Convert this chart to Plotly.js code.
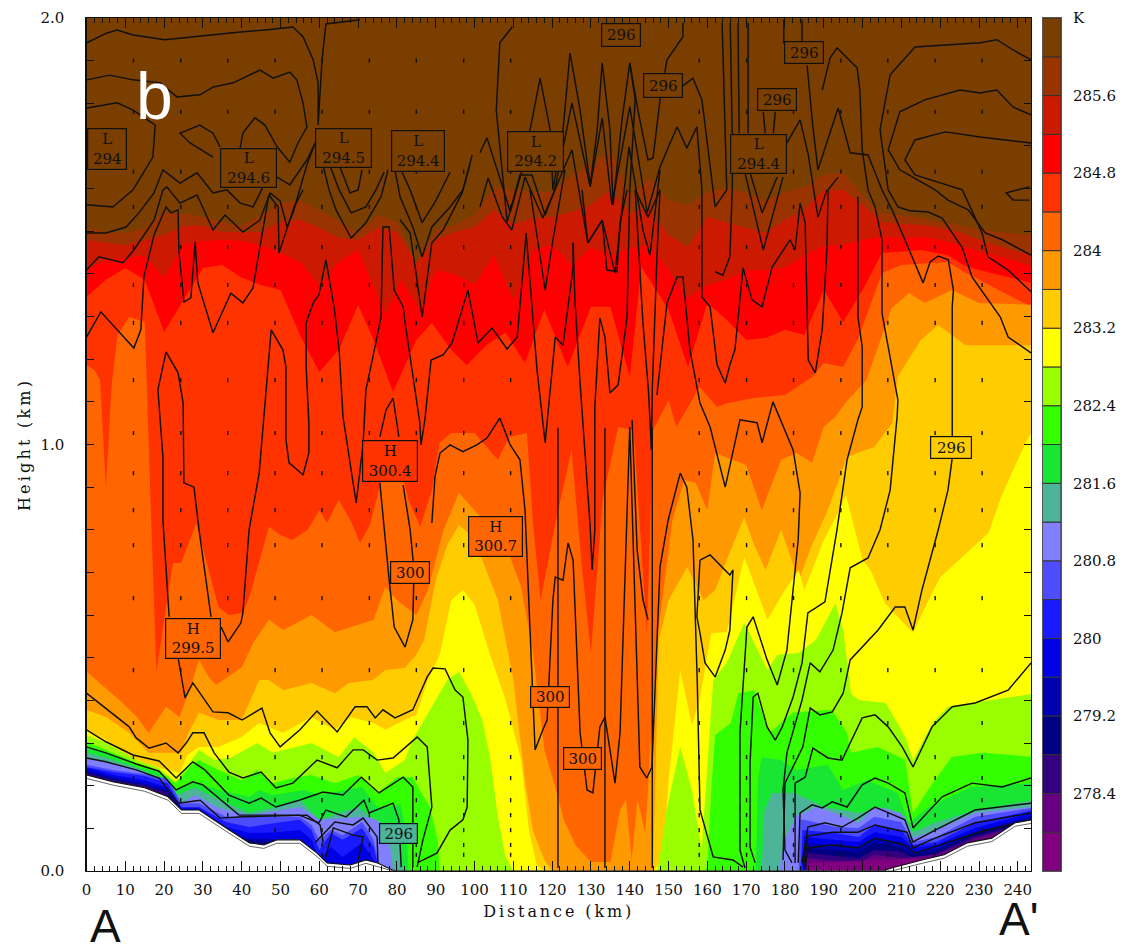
<!DOCTYPE html>
<html><head><meta charset="utf-8">
<script src="https://cdn.plot.ly/plotly-3.0.1.min.js"></script>
<style>html,body{margin:0;padding:0;background:#fff}#plot{width:1123px;height:947px}
.xtitle{letter-spacing:2.9px}.ytitle{letter-spacing:3.2px}</style>
</head><body><div id="plot"></div>
<script>
// Temperature isotherm heights (km), warmest first
const x5=[0,5,10,15,20,25,30,35,40,45,50,55,60,65,70,75,80,85,90,95,100,105,110,115,120,125,130,135,140,145,150,155,160,165,170,175,180,185,190,195,200,205,210,215,220,225,230,235,240,245];
const t286_h=[1.508,1.498,1.496,1.508,1.545,1.541,1.534,1.522,1.513,1.538,1.566,1.573,1.55,1.522,1.496,1.538,1.522,1.428,1.503,1.515,1.538,1.602,1.597,1.592,1.592,1.632,1.656,1.691,1.585,1.625,1.573,1.562,1.592,1.602,1.59,1.573,1.592,1.604,1.632,1.639,1.585,1.543,1.538,1.531,1.522,1.513,1.505,1.498,1.494,1.491];
const t2856_h=[1.48,1.473,1.468,1.48,1.491,1.513,1.513,1.498,1.498,1.498,1.522,1.527,1.508,1.484,1.48,1.508,1.498,1.426,1.48,1.498,1.51,1.55,1.515,1.531,1.534,1.545,1.562,1.597,1.543,1.557,1.491,1.463,1.534,1.52,1.508,1.496,1.527,1.55,1.597,1.597,1.562,1.522,1.517,1.515,1.508,1.498,1.48,1.466,1.452,1.442];
const t2852_x=[0,5,10,15,20,25,30,35,40,45,50,55,60,65,70,77,81,86,90,95,100,105,110,115,120,125,130,135,140,145,150,155,160,165,170,175,180,185,190,195,200,205,210,215,220,225,230,235,240,245];
const t2852_h=[1.409,1.433,1.437,1.444,1.391,1.468,1.477,1.48,1.477,1.468,1.449,1.428,1.374,1.428,1.456,1.304,1.386,1.316,1.409,1.398,1.374,1.444,1.339,1.456,1.468,1.421,1.461,1.444,1.461,1.468,1.409,1.344,1.374,1.386,1.409,1.409,1.414,1.444,1.466,1.468,1.48,1.487,1.484,1.487,1.48,1.468,1.452,1.442,1.428,1.414];
const t2848_x=[0,5,10,15,20,25,30,35,40,45,50,55,60,65,70,74,79,85,89,94,98,103,108,113,118,124,130,135,140,143,150,155,160,165,170,175,180,185,190,195,200,205,210,215,222,226,230,235,240,245];
const t2848_h=[1.346,1.386,1.414,1.386,1.264,1.339,1.414,1.421,1.391,1.374,1.362,1.257,1.17,1.222,1.327,1.245,1.123,1.245,1.285,1.222,1.186,1.233,1.262,1.191,1.316,1.182,1.323,1.323,1.158,1.416,1.316,1.182,1.332,1.292,1.245,1.25,1.269,1.257,1.362,1.287,1.362,1.449,1.452,1.456,1.444,1.421,1.409,1.398,1.386,1.376];
const t2844_x=[0,2,3.5,5,6.5,8,11,15,16.5,18,20,22.3,24.4,28.3,34,36.7,40.3,42,47,50,53,57,60,62,65,68,70.5,73,76,78,81,83,86,89,91,94,100,106,109,113.5,115,117,121,125,127.5,130,133,137,141,142.5,144.4,146,150,152,158,162.5,165,172,180,187,190,195,199,205,210,222,226,230,235,240,245];
const t2844_h=[1.186,1.175,1.151,.9,1.14,1.257,1.299,1.287,.87,.467,.589,.722,.722,.816,.619,.6,.605,.643,.807,.788,.776,.8,.846,.816,.87,.823,.769,.811,.917,.987,.94,.87,.807,.893,1.004,1.027,1.027,.964,1.018,1.027,.823,.635,.823,.987,.729,.511,.87,1.041,1.034,.823,.558,1.034,1.104,1.041,1.135,1.088,1.097,1.109,1.116,1.158,1.191,1.182,1.252,1.402,1.421,1.428,1.405,1.386,1.362,1.339,1.316];
const t284_x=[0,8.5,13,16,20.5,24,26.5,29,31.5,33.4,40,43,47,50.7,58,64,74,77,80,85,88,92,96,103,108,112,115,118,121,123,126,130,135,137.5,139,140.5,142,144,147,149,151,154,157,160,162,170,174,179,183,187,190,193,195.5,201,205,207.5,212,216,223,230,245];
const t284_h=[.467,.401,.361,.324,.385,.361,.424,.495,.455,.436,.478,.535,.589,.565,.6,.56,.589,.666,.635,.6,.659,.8,.886,.816,.765,.666,.518,.284,.19,.12,.061,.021,.021,.143,.167,.026,.167,.089,.542,.682,.823,.917,.91,.846,.98,.952,.846,.964,.98,.957,1.041,1.065,1.097,1.151,1.252,1.32,1.355,1.332,1.362,1.332,1.327];
const t2836_x=[0,5,11,16,21.5,24.4,26,29,34,40,44.5,47,50.7,58,64,67.6,73.8,77,82,85,87,90,93,96,99,102,106,110,113,115,118,120,146,147.5,150,154.8,159,162,165,169.5,172,175,179,183.5,187,191,196,203,207.7,209,215,219.5,226.5,245];
const t2836_h=[.378,.361,.324,.277,.277,.277,.319,.371,.354,.354,.448,.448,.424,.441,.417,.441,.448,.471,.476,.507,.542,.682,.765,.811,.788,.729,.635,.448,.213,.096,.026,0,0,.542,.635,.713,.635,.659,.729,.83,.765,.706,.8,.682,.765,.846,.971,.994,1.051,1.158,1.245,1.28,1.233,1.233];
const t2832_x=[0,5,11,18,24,26,29,34,40,44.5,50.7,58,64,68,74,77,82,85,88,91,94,97,100,104,108,112,114,116,118,146,148.5,150,153,156,158,161,165,169.5,175.5,180,183.5,185,187,190,194,195.7,198,200,202,205.8,213,216.6,220,232.5,235.7,242,245];
const t2832_h=[.331,.307,.267,.244,.23,.272,.291,.291,.314,.347,.324,.361,.331,.361,.347,.331,.354,.366,.448,.507,.635,.659,.624,.507,.401,.26,.096,.014,0,0,.026,.213,.471,.342,.401,.558,.56,.736,.589,.659,.706,.659,.706,.776,.846,.882,.8,.729,.706,.628,.558,.628,.689,.793,.877,1.004,1.051];
const t2828_x=[0,5,13,18.5,23,27,29,33,37,44,48,58,65,69,74,77,82,84,88.5,93,96,99,102,104,106,108,110,147,147.5,149.5,153,156,158.5,160,161.5,165,169.5,175.5,178,183.5,188,193,195,197,199,206,211,213,218,222,230,245];
const t2828_h=[.319,.3,.26,.242,.209,.26,.284,.26,.265,.3,.277,.3,.267,.314,.277,.23,.26,.307,.378,.448,.467,.417,.354,.267,.127,.033,0,0,.019,.143,.291,.19,.049,.237,.448,.488,.582,.471,.507,.511,.542,.628,.565,.417,.401,.394,.314,.26,.347,.385,.396,.417];
const t2824_x=[0,5,13,18.5,23,27,29,34,40,44,48,54,58,64,70,75,80,84,88.5,90.5,91,159.5,160,161,162,166,168,172,176,182,192,196,197,204,211,213,218,223,231,245];
const t2824_h=[.303,.284,.253,.237,.206,.249,.26,.237,.213,.237,.206,.22,.225,.206,.225,.183,.22,.22,.15,.073,0,0,.014,.19,.319,.347,.417,.424,.324,.371,.378,.324,.277,.291,.26,.136,.206,.267,.277,.267];
const t282_x=[0,5,13,18.5,23,28,34,42,44.5,48,56,60,71,75,81,82.6,83,172.5,173,174,179,183,191,195,201,209,212,217,228,245];
const t282_h=[.291,.277,.244,.232,.19,.209,.19,.174,.19,.178,.19,.178,.197,.15,.155,.073,0,0,.213,.267,.26,.237,.249,.19,.213,.183,.113,.15,.197,.206];
const t2816_x=[0,5,13,18.5,22,28,34,42,49,55,60,70,75,79,81,81.5,174,174.7,176.7,182.6,190,199,206,211,213,218.7,229,245];
const t2816_h=[.277,.265,.242,.22,.174,.195,.167,.136,.15,.167,.12,.15,.113,.096,.073,0,0,.141,.183,.183,.15,.136,.15,.127,.091,.113,.143,.167];
const t2812_x=[0,5,13,18.5,23,28,34,42,55,60,71,75,78,79,178.5,180,183,185,188,193,199,203,210,213,219,229,243,245];
const t2812_h=[.265,.256,.237,.218,.15,.178,.148,.131,.15,.12,.127,.12,.073,0,0,.073,.131,.136,.15,.136,.113,.15,.136,.078,.096,.136,.15,.152];
const t2808_x=[0,7,15,21,24.5,29,36,42,49,55,58,60,63,66,71,74,75.7,183.5,184,185,193,199,203,210,213,219,229,243,245];
const t2808_h=[.249,.237,.227,.216,.159,.159,.127,.127,.127,.127,.108,.073,.096,.084,.115,.073,0,0,.12,.12,.103,.101,.127,.115,.068,.08,.127,.148,.15];
const t2804_x=[0,7,15,21,24.5,29,36,42,49,55,58,60,63,66,71,74,75.5,184,184.5,193,199,203,210,213,219,229,243,245];
const t2804_h=[.244,.232,.223,.206,.15,.15,.115,.103,.113,.12,.096,.049,.089,.073,.101,.056,0,0,.096,.089,.08,.108,.096,.061,.068,.113,.141,.145];
const t280_x=[0,7,15,21,24.5,29,36,42,49,55,58,60,63,66,71,74,75,184.5,185,193,199,203,210,213,219,229,243,245];
const t280_h=[.242,.225,.213,.195,.148,.148,.103,.089,.091,.096,.073,.026,.056,.033,.066,.026,0,0,.08,.073,.068,.091,.08,.054,.061,.101,.136,.14];
const t2796_x=[0,7,15,21,24.5,29,36,42,46,49,50,184.8,185,199,203,210,213,219,229,243,245];
const t2796_h=[.237,.22,.206,.19,.145,.145,.091,.077,.077,.073,0,0,.066,.056,.077,.068,.045,.054,.091,.129,.132];
const t2792_x=[0,7,15,21,24.5,29,36,42,46,49,50,185,185.3,199,203,210,213,219,229,243,245];
const t2792_h=[.232,.216,.202,.185,.143,.143,.084,.073,.07,.068,0,0,.054,.045,.066,.056,.038,.049,.089,.12,.123];
const t2788_x=[0,7,15,21,22,185.3,185.5,199,203,210,213,219,229,243,245];
const t2788_h=[.23,.213,.2,.183,0,0,.042,.03,.049,.045,.03,.042,.082,.115,.118];
const t2784_x=[0,185.5,185.7,199,203,210,219,229,243,245];
const t2784_h=[0,0,.03,.019,.038,.03,.038,.077,.113,.116];
const t278_x=[0,186,186.2,203,219,229,243,245];
const t278_h=[0,0,.019,.026,.03,.068,.108,.11];
const terrain_x=[0,7,15,21,24.5,29,36,42,45.7,49,55,59.4,62,68,72,75,79,80,205,207.5,215.3,221,227,233.3,239.3,243.4,245];
const terrain_h=[.225,.209,.195,.174,.143,.143,.101,.066,.061,.073,.073,.042,.019,.014,.026,.019,.002,0,0,.007,.026,.038,.066,.077,.113,.12,.122];
const terrainEdge_h=[.217,.201,.187,.166,.135,.135,.093,.058,.053,.065,.065,.034,.011,.006,.018,.011,0,0,0,0,.018,.03,.058,.069,.105,.112,.114];

// Colour key
const bandColors=['#800080','#660080','#330080','#000080','#0000b3','#0000e6','#1a1aff','#4d4dff','#8080ff','#4db399','#19e633','#33ff00','#99ff00','#ffff00','#ffcc00','#ff9900','#ff6600','#ff3300','#ff0000','#cc1a00','#993300','#7a3e00'];
const bandBase=[277.6,278,278.4,278.8,279.2,279.6,280,280.4,280.8,281.2,281.6,282,282.4,282.8,283.2,283.6,284,284.4,284.8,285.2,285.6,286];
const bandStep=[.4,.4,.4,.4,.4,.4,.4,.4,.4,.4,.4,.4,.4,.4,.4,.4,.4,.4,.4,.4,.4,.4];
const keyTicks=[278.4,279.2,280,280.8,281.6,282.4,283.2,284,284.8,285.6];
const keyLabels=['278.4','279.2','280','280.8','281.6','282.4','283.2','284','284.8','285.6'];

// Potential-temperature contours (distance km, height km)
const a1x=[.1,5.3,7.9,12,20.2,29.2,39.6,46,53.2,55.8,58.4,59.7,59.7,60.7,61.7,70.5], a1h=[1.942,1.965,1.972,1.96,1.949,1.958,1.967,1.972,1.979,1.956,1.902,1.848,1.749,1.902,1.986,1.996];
const a2x=[.1,6,12,19,23.3,29.2,32.6,37.8,44.7,48.1,52.4,54.2,55.8,56.8,54.5,52.4,49.1,46,43.4,40.3,39.6], a2h=[1.855,1.866,1.855,1.848,1.815,1.82,1.838,1.848,1.878,1.859,1.873,1.855,1.801,1.744,1.707,1.662,1.698,1.749,1.766,1.73,1.695];
const a3x=[.1,7.9,12,17.7,17.1,12,6.8,.1], a3h=[1.789,1.801,1.784,1.749,1.674,1.597,1.557,1.562];
const a3bx=[34.4,32.6,29.2,24.1,26.7,32.6], a3bh=[1.698,1.73,1.749,1.73,1.707,1.674];
const a4x=[0,5,10.2,13.5,17.4,19.7,24.1,28.5,32.6,36.2,39.6,42.9,45.5,47.3], a4h=[1.496,1.496,1.51,1.543,1.59,1.644,1.613,1.637,1.59,1.597,1.566,1.557,1.604,1.644];
const a4bx=[49.1,52.4,56.8,58.9], a4bh=[1.627,1.609,1.667,1.707];
const a5x=[0,3.2,9.4,12.2,17.4,19.7,20.7,24.1,28.5,32.6,35.7,40.3,44.7,47.3,49.9,51.7,53.2,55,56.8,60.2], a5h=[1.409,1.44,1.426,1.456,1.526,1.597,1.604,1.566,1.585,1.503,1.538,1.498,1.526,1.59,1.571,1.51,1.543,1.597,1.656,1.737];
const a6x=[0,3.7,12.2,14,14.8,17.4,20.5,21.8,23.6,23.8,25.1,26.9,28,28.7,32.6,37.2,40.3,42.9,45,47,49.4,49.6,53.5,55.8], a6h=[1.252,1.311,1.226,1.269,1.393,1.491,1.557,1.543,1.55,1.456,1.334,1.344,1.475,1.379,1.262,1.355,1.332,1.367,1.48,1.585,1.557,1.449,1.557,1.597];
const d1x=[21.3,19.7,19.7,18.4,20.5,23.6,24.9,25.1,27.7,29,32.1], d1h=[.596,.823,.971,1.128,1.217,1.168,1.097,.91,.9,.8,.596];
const hx=[34.7,36.5,39.8,40.3,41.9,44.5,46.3,47.6,50.6,51.4,51.4,52.2,55.8,57.3,57.3,56.6,56.6,58.4,59.9,61.7,63.8,65.1,66.1,69.5,71.3,72,73.8,75.9,76.4,78,79.3,81.6,82.1,84.1,85.9,86.2,87.2,88.8,91.9,94.2,98.3,100.9,104.5,108.4,111,112.5,113.3,114.8,116.1,118.2,120,120.8,122.8,125.4,125.4];
const hh=[.572,.537,.582,.605,.8,.933,1.128,1.269,1.222,1.182,1.011,.957,.929,.98,1.051,1.182,1.285,1.332,1.351,1.433,1.323,1.222,1.065,.863,1.004,1.128,1.205,1.299,1.51,1.51,1.362,1.323,1.285,1.158,1.051,.999,1.058,1.198,1.21,1.238,1.362,1.238,1.273,1.224,1.252,1.409,1.496,1.323,1.175,1.004,1.168,1.252,1.233,1.416,1.473];
const i1x=[75.6,77.2,79,80.5], i1h=[1.018,1.081,1.109,1.018];
const i2x=[81.6,83.4,84.4,84.1,82.1,79.3,78,76.4,75.6], i2h=[.905,.8,.706,.589,.525,.572,.682,.823,.91];
const c4x=[89,89.8,91.1,93.7,97,100.6,103.2,106.5,109.2,111.7,113,114.3,115.6,117.6,118.7,120.2,120.8,122.8,124.1,125.4,127.2,129,130.5,132.3,133.6,134.9,136.2,137.5,139.2,140,142.6,144.4,145.7,147,147.8,149.9,153,154.7,156.3,157.4,158.1,161.5,166.6,169.2];
const c4h=[.816,.924,.98,.999,.983,.999,1.015,1.062,.999,.964,.847,.558,.284,.331,.354,.636,.689,.682,.769,.729,.324,.19,.183,.338,.361,.284,.206,.324,.83,1.041,.244,.218,.244,.558,.713,.823,.933,.9,.776,.441,.143,.033,.026,.009];
const c4bx=[140.6,141.9,143.4,144.7], c4bh=[1.058,.753,.636,.589];
const c2x=[125.4,125.9,127.2,129.8,130.3,131,131,132.3,133.6,134.9,137,139.3,140,141.4,140], c2h=[1.473,1.332,1.144,.807,.706,.8,1.088,1.297,1.252,1.121,1.14,1.299,1.597,1.808,1.895];
const c7x=[147,149.6,152.2,153.7,155.5,158.1,160.7,164.6,168.4,172.8,174.1,176.9,182.1,183.9,183.4,180.5,178,175.4,171.8,170.2,168.4,168.4,169.7], c7h=[1.116,1.332,1.393,1.393,1.222,1.097,1.041,.9,1.058,1.051,1.004,1.1,.987,.886,.776,.518,.436,.495,.596,.572,.324,.049,.007];
const c12ax=[141.4,143.4,144.8,145.6], c12ah=[1.597,1.285,1.128,.987];
const c12bx=[147.8,147,145.8,145.6], c12bh=[1.597,1.439,1.128,.987];
const c8x=[158.1,160.7,165.8,166.6,165.8,164.6,162,159.4,158.1,157.3,158.1], c8h=[.729,.741,.694,.706,.565,.518,.455,.488,.558,.596,.729];
const r3x=[198.8,198.8,199.9,199.9,198.8,196,193.4,190.3,185.9,184.4,182.1,179.3,177.5,175.4,173,171.8,171,171,172.3], r3h=[1.581,1.299,1.229,1.088,1.058,.964,.8,.631,.605,.488,.408,.338,.307,.338,.417,.408,.253,.056,.019];
const r4x=[189.6,191.6,193.4,198.6,199.3,199.9,201.4,203.2,205,205,206.6,209.1,208.9,207.1,204.5,201.4,196.8,194.7,192.4,189,186.5,184.4,180.5,179.5,180,181.8], r4h=[1.831,1.906,1.93,1.883,1.831,1.691,1.597,1.557,1.48,1.308,1.229,1.104,1.065,.893,.8,.734,.711,.605,.518,.467,.488,.401,.277,.19,.049,.019];
const r5x=[223.1,222,219.5,215.3,213,210.9,208.4,204,196.8,195,192.2,189,186.5,184.6,180,179.5], r5h=[.968,.893,.8,.659,.565,.619,.619,.565,.495,.417,.373,.366,.382,.291,.206,.026];
const r11x=[223.1,223.1,223.4,222.1,219.5,217.4,215.6,213.5,210.9,207.6,205,201.4,196.8,193.7,188.5,187.2,185.7], r11h=[1.018,1.323,1.362,1.433,1.442,1.428,1.379,1.426,1.48,1.55,1.597,1.679,1.684,1.789,1.644,1.744,1.889];
const r6x=[243.4,237.5,229,223.1,217.9,213,210.2,206.6,203.2,199.9,196.8,194.7,191.1,187.2,185.2,182.6,182.6], r6h=[.488,.424,.394,.385,.338,.244,.291,.338,.366,.359,.3,.26,.265,.288,.22,.206,.019];
const r7x=[243.4,236,228.2,220.5,213,210.9,206.6,203.2,199.9,196,192.2,189.6,187,183.9,183.4], r7h=[.218,.197,.206,.174,.101,.183,.206,.218,.202,.15,.162,.148,.155,.136,.019];
const r8x=[243.4,229,218.7,213,210.9,203.2,198.8,194.7,190.3,185.9,184.4], r8h=[.159,.143,.096,.068,.12,.15,.124,.103,.113,.103,.019];
const r9x=[243.4,229,218.7,213,211.4,203.2,198.8,192.2,185.9,184.9], r9h=[.136,.113,.077,.054,.091,.108,.091,.091,.082,.014];
const r10x=[243.4,229.8,213.5,210.9,203.2,198.8,192.2,185.9,185.2], r10h=[.12,.091,.042,.061,.077,.054,.061,.054,.007];
const z0x=[206.6,204.5,207.1,213.5,230.3,234.6,238.8,243.4], z0h=[1.597,1.738,1.867,1.932,1.942,1.949,1.925,1.902];
const r12x=[206.6,209.1,212.2,216.9,220.5,225.7,228.2,235.5,237.5,243.4], r12h=[1.597,1.557,1.548,1.545,1.531,1.461,1.393,1.299,1.252,1.215];
const z1x=[243.4,238.8,234.6,230.3,225.1,216,209.6,206.6,209.6,218.7,222,227.2,231.6,236,243.4], z1h=[1.773,1.791,1.831,1.824,1.831,1.808,1.78,1.691,1.644,1.597,1.573,1.55,1.496,1.48,1.444];
const z2x=[243.4,230.3,221.3,213.5,210.9,213.5,225.7,230.8,232.3,237.5,243.4], z2h=[1.707,1.721,1.733,1.714,1.667,1.632,1.597,1.496,1.44,1.409,1.358];
const z3x=[243,237,238.8,243], z3h=[1.604,1.59,1.573,1.573];
const c10x=[193.7,191.1,190.8,189.6,187.8,186,185.2,183.9,182.6,181.3,176.7,174.1,171.5,169.2,167.1,165.8,164.6,162.5,160.7,158.6,158.6,157.3,154.7,152.2,147.8,144.5,140,135.4,132.9,129.8,125.1,120.7,118.2,114.8,111.7,108.4,105.6,106.5,109.7];
const c10h=[1.627,1.597,1.456,1.269,1.168,1.198,1.52,1.566,1.456,1.48,1.416,1.323,1.339,1.414,1.222,1.187,1.144,1.187,1.323,1.346,1.597,1.745,1.695,1.745,1.651,1.543,1.792,1.562,1.766,1.604,1.801,1.597,1.538,1.632,1.632,1.522,1.784,1.942,1.979];
const p1x=[101.4,103.2,107.9,109.2,113,114.3,116.9,119.5,120.2,122.8,124.6,127.2,129.8,131.6,132.9,134.9,135.7,138,140,142.1,144.7,146,147.8,149.6,153.7,153.7];
const p1h=[1.684,1.719,1.585,1.545,1.667,1.737,1.859,1.737,1.597,1.737,1.918,1.784,1.608,1.737,1.895,1.737,1.562,1.761,1.895,1.784,1.667,1.672,1.808,1.902,1.956,1.989];
const p3x=[101.4,103.5,107.1,109.6,113,117.6,125.1,129.2,132.9,136.2,139.8,143.4,145.2,147.8], p3h=[1.557,1.625,1.534,1.503,1.627,1.531,1.691,1.473,1.526,1.402,1.698,1.503,1.444,1.644];
const qx=[153.7,156.3,158.6,159.9,162,165,163.8], qh=[1.841,1.859,1.808,1.707,1.557,1.597,1.989];
const v2x=[165.9,166.4], v2h=[1.989,1.73];
const v3x=[167.9,168.2], v3h=[1.989,1.73];
const v4x=[170.5,170.5], v4h=[1.989,1.73];
const w1x=[179.7,179.7], w1h=[1.996,1.94];
const w2x=[184.4,184.4], w2h=[1.996,1.94];
const w4x=[180.5,183.9,186,188.5,190.8], w4h=[1.707,1.761,1.679,1.533,1.597];
const w5x=[171,174.1,178], w5h=[1.637,1.543,1.627];
const w6x=[169.7,174.4,179.5], w6h=[1.637,1.456,1.627];
const w7x=[174.4,174.9], w7h=[1.78,1.73];
const w8x=[177.5,177], w8h=[1.78,1.73];
const m2x=[114.3,118.2,120.2,121.5,123.3], m2h=[1.597,1.362,1.48,1.55,1.644];
const m3x=[127.7,129.2,132.9,134.1,136.7,137.5,139.3], m3h=[1.597,1.473,1.526,1.409,1.405,1.52,1.597];
const m5x=[141.4,144.7,147.8], m5h=[1.597,1.533,1.597];
const c11x=[162,164,165.8,166.4,166.6], c11h=[1.405,1.397,1.44,1.597,1.73];
const u1x=[59.7,62.5,64.3,68.2,72,75.9,77.7], u1h=[1.702,1.597,1.55,1.484,1.52,1.581,1.644];
const u2x=[60.7,65.1,68.2,72,74.6,76.7], u2h=[1.702,1.597,1.543,1.557,1.597,1.639];
const u3x=[65.3,67.9,70,71], u3h=[1.651,1.59,1.597,1.644];
const n1x=[80.8,83.4,84.7,86.5,89,91.9,96.8,98.8], n1h=[1.527,1.496,1.416,1.299,1.473,1.503,1.59,1.656];
const n2x=[79.5,80.8,84.1,86.5,89,93.7,97,99.4], n2h=[1.644,1.581,1.51,1.44,1.51,1.557,1.597,1.679];
const n3x=[81.3,83.4,86.5,90.1,93.7], n3h=[1.639,1.597,1.52,1.573,1.639];
const up1x=[23.6,25.4,27.4,32.6,36.5,40.1,45.2,47.3,49.9,55,59.4,64.6,69.2,72.3,74.4,76.4,79.5,84.1,87.8,89.3,92.4,95,97,98.3,98.1,97,93.7,90.3,85.2];
const up1h=[.5,.406,.441,.373,.371,.354,.382,.324,.291,.331,.375,.326,.385,.385,.359,.378,.359,.378,.455,.476,.474,.424,.408,.307,.15,.12,.096,.042,.019];
const bx=[0,11,12.8,16.1,20.5,23.6,25.7,27.4,30.3,32.9,36.7,40.3,45,48.8,53.2,59.4,64.6,68.7,71.3,74.9,79,85.2,87.8,89,86.7,85.2];
const bh=[.417,.338,.312,.288,.3,.277,.3,.324,.324,.277,.232,.218,.232,.195,.206,.26,.242,.284,.284,.26,.265,.314,.291,.15,.073,.009];
const cx=[0,5,12,18.7,23.1,27.4,30.5,36.7,41.9,45,48.8,54.8,61,66.1,70.8,75.4,81.6,84.1,84.1], ch=[.331,.303,.272,.258,.218,.256,.237,.178,.159,.171,.15,.166,.185,.178,.22,.183,.22,.197,.009];
const dx=[0,5,12.8,18.7,23.1,27.4,30,39.3,54.8,59.9,61.7,66.9,71.5,72.8,79,80.5,81.1], dh=[.291,.277,.251,.234,.19,.209,.202,.131,.131,.113,.143,.127,.166,.136,.159,.12,.009];
const ex=[0,5,12.8,18.7,23.6,29.3,34.4,40.3,56.8,60.2,61], eh=[.265,.256,.237,.218,.159,.166,.124,.127,.131,.108,.066];
const fx=[58.9,61.5,64,68.7,71.3,74.9,75.1], fh=[.066,.091,.115,.108,.124,.08,.019];
const gx=[61.5,63.6,68.7,71.3,70], gh=[.026,.101,.084,.08,.026];

const contourLines=[[a1x,a1h],[a2x,a2h],[a3x,a3h],[a3bx,a3bh],[a4x,a4h],[a4bx,a4bh],[a5x,a5h],[a6x,a6h],[d1x,d1h],[hx,hh],[i1x,i1h],[i2x,i2h],[c4x,c4h],[c4bx,c4bh],[c2x,c2h],[c7x,c7h],[c12ax,c12ah],[c12bx,c12bh],[c8x,c8h],[r3x,r3h],[r4x,r4h],[r5x,r5h],[r11x,r11h],[r6x,r6h],[r7x,r7h],[r8x,r8h],[r9x,r9h],[r10x,r10h],[z0x,z0h],[r12x,r12h],[z1x,z1h],[z2x,z2h],[z3x,z3h],[c10x,c10h],[p1x,p1h],[p3x,p3h],[qx,qh],[v2x,v2h],[v3x,v3h],[v4x,v4h],[w1x,w1h],[w2x,w2h],[w4x,w4h],[w5x,w5h],[w6x,w6h],[w7x,w7h],[w8x,w8h],[m2x,m2h],[m3x,m3h],[m5x,m5h],[c11x,c11h],[u1x,u1h],[u2x,u2h],[u3x,u3h],[n1x,n1h],[n2x,n2h],[n3x,n3h],[up1x,up1h],[bx,bh],[cx,ch],[dx,dh],[ex,eh],[fx,fh],[gx,gh]];

// Wind marks
const windColumns=[12.1,24.3,36.4,48.6,60.7,72.9,85,97.2,109.3,157.9,170.1,182.2,194.4,206.5,218.7,230.8];
const windRows=[.038,.061,.096,.131,.166,.218,.267,.347,.471,.64,.764,.846,.933,1.027,1.151,1.285,1.374,1.463,1.557,1.64,1.78,1.9];
const arrowColumns=[121.5,133.6,145.8];
const arrowHeights=[.007,.06,.12,.18,.263,.366,.506,.682,.8,.879,.959,1.039];

// Labelled boxes
const labelText=['L<br>294','L<br>294.6','L<br>294.5','L<br>294.4','L<br>294.2','L<br>294.4','296','296','296','296','296','H<br>300.4','300','H<br>300.7','H<br>299.5','300','300','296'];
const labelX=[5.3,41.8,66.2,85.4,115.6,173.2,137.8,148.6,178,184.9,222.8,78.2,83.4,105.3,27.4,119.5,127.8,80.4];
const labelH=[1.694,1.649,1.696,1.689,1.688,1.682,1.959,1.842,1.808,1.918,.994,.962,.701,.785,.546,.409,.263,.089];
const labelFill=['#7a3e00','#7a3e00','#7a3e00','#7a3e00','#7a3e00','#7a3e00','#7a3e00','#7a3e00','#7a3e00','#7a3e00','#ffcc00','#ff3300','#ff6600','#ff6600','#ff6600','#ff6600','#ff6600','#4db399'];
const labelWide=[38,55,55,52,55,55,38,38,38,38,40,54,38,53,54,38,37,37];
const labelTall=[40,38,38,40,39,38,22,23,21,21,21,40,21,39,39,20,21,19];

const serif='"DejaVu Serif", serif', ink='#101010';
const traces=[];
function band(x,h,color){traces.push({type:'scatter',mode:'lines',x:x,y:h,fill:'tozeroy',fillcolor:color,line:{width:0,color:color},hoverinfo:'skip',showlegend:false,xaxis:'x',yaxis:'y'});}
band([0,245],[2,2],bandColors[21]);
band(x5,t286_h,bandColors[20]);
band(x5,t2856_h,bandColors[19]);
band(t2852_x,t2852_h,bandColors[18]);
band(t2848_x,t2848_h,bandColors[17]);
band(t2844_x,t2844_h,bandColors[16]);
band(t284_x,t284_h,bandColors[15]);
band(t2836_x,t2836_h,bandColors[14]);
band(t2832_x,t2832_h,bandColors[13]);
band(t2828_x,t2828_h,bandColors[12]);
band(t2824_x,t2824_h,bandColors[11]);
band(t282_x,t282_h,bandColors[10]);
band(t2816_x,t2816_h,bandColors[9]);
band(t2812_x,t2812_h,bandColors[8]);
band(t2808_x,t2808_h,bandColors[7]);
band(t2804_x,t2804_h,bandColors[6]);
band(t280_x,t280_h,bandColors[5]);
band(t2796_x,t2796_h,bandColors[4]);
band(t2792_x,t2792_h,bandColors[3]);
band(t2788_x,t2788_h,bandColors[2]);
band(t2784_x,t2784_h,bandColors[1]);
band(t278_x,t278_h,bandColors[0]);

const wx=[],wy=[];
windColumns.forEach(c=>windRows.forEach(r=>{wx.push(c);wy.push(r);}));
traces.push({type:'scatter',mode:'markers',x:wx,y:wy,marker:{symbol:'line-ns',size:3,line:{width:1.4,color:ink}},hoverinfo:'skip',showlegend:false});
contourLines.forEach(p=>traces.push({type:'scatter',mode:'lines',x:p[0],y:p[1],line:{color:ink,width:1.45},hoverinfo:'skip',showlegend:false}));
arrowColumns.forEach(c=>traces.push({type:'scatter',mode:'lines+markers',x:arrowHeights.map(()=>c),y:arrowHeights,line:{color:ink,width:1.4},marker:{symbol:'arrow-wide-open',size:9,line:{width:1.4,color:ink},color:'rgba(0,0,0,0)'},hoverinfo:'skip',showlegend:false}));
traces.push({type:'scatter',mode:'lines',x:terrain_x,y:terrain_h,fill:'tozeroy',fillcolor:'#ffffff',line:{color:ink,width:1.1},hoverinfo:'skip',showlegend:false});
traces.push({type:'scatter',mode:'lines',x:terrain_x,y:terrainEdge_h,line:{color:'#666',width:1},hoverinfo:'skip',showlegend:false});
traces.push({type:'bar',x:bandBase.map(()=>0),y:bandStep,base:bandBase,width:1,marker:{color:bandColors,line:{color:'#333',width:1}},xaxis:'x2',yaxis:'y2',hoverinfo:'skip',showlegend:false});

const W=1123,H=947;
const annotations=labelText.map((t,i)=>({xref:'x',yref:'y',x:labelX[i],y:labelH[i],text:t,showarrow:false,width:labelWide[i],height:labelTall[i],
  font:{family:serif,size:15,color:ink},bgcolor:labelFill[i],bordercolor:ink,borderwidth:1.2,borderpad:0,align:'center',valign:'middle',xanchor:'center',yanchor:'middle'}));
function note(x,y,text,size,color,family,xa){annotations.push({xref:'paper',yref:'paper',x:x/W,y:1-y/H,text:text,showarrow:false,xanchor:xa||'center',yanchor:'middle',font:{family:family,size:size,color:color}});}
note(154,96,'b',66,'#ffffff','"Liberation Sans",sans-serif');
note(105,926,'A',46,'#111','"Liberation Sans",sans-serif');
note(1018,919,"A'",46,'#111','"Liberation Sans",sans-serif');
note(1071,18,'K',15,ink,serif,'left');

const layout={width:W,height:H,margin:{l:0,r:0,t:0,b:0},paper_bgcolor:'#fff',plot_bgcolor:'#fff',showlegend:false,font:{family:serif,color:ink},
  xaxis:{domain:[86.5/W,1031/W],range:[0,243.4],anchor:'y',tick0:0,dtick:10,ticks:'inside',ticklen:10,tickcolor:ink,tickwidth:1,mirror:'ticks',showline:true,linecolor:ink,linewidth:1.2,showgrid:false,zeroline:false,
    tickfont:{family:serif,size:15,color:ink},ticklabelstandoff:5,minor:{tick0:0,dtick:2,ticks:'inside',ticklen:5,tickcolor:ink,showgrid:false},
    title:{text:'Distance (km)',font:{family:serif,size:16,color:ink},standoff:7}},
  yaxis:{domain:[1-871/H,1-18/H],range:[0,2],anchor:'x',tick0:0,dtick:1,tickformat:'.1f',ticks:'inside',ticklen:7,tickcolor:ink,mirror:'ticks',showline:true,linecolor:ink,linewidth:1.2,showgrid:false,zeroline:false,
    tickfont:{family:serif,size:15,color:ink},ticklabelstandoff:18,minor:{tick0:0,dtick:.1,ticks:'inside',ticklen:7,tickcolor:ink,showgrid:false},
    title:{text:'Height (km)',font:{family:serif,size:16,color:ink},standoff:5}},
  xaxis2:{domain:[1042.5/W,1061/W],range:[-.5,.5],anchor:'y2',showticklabels:false,ticks:'',showgrid:false,zeroline:false,showline:true,linecolor:'#555',mirror:true},
  yaxis2:{domain:[1-871/H,1-18/H],range:[277.6,286.4],anchor:'x2',side:'right',tickmode:'array',tickvals:keyTicks,ticktext:keyLabels,ticks:'',ticklabelstandoff:8,showgrid:false,zeroline:false,showline:true,linecolor:'#555',mirror:true,tickfont:{family:serif,size:15,color:ink}},
  annotations:annotations};
Plotly.newPlot('plot',traces,layout,{displayModeBar:false,staticPlot:true});
</script></body></html>
